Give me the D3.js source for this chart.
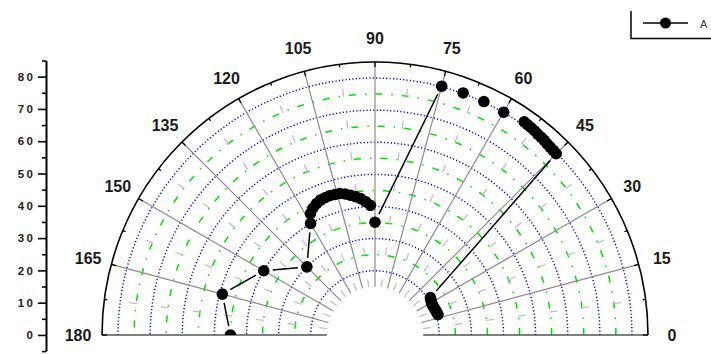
<!DOCTYPE html>
<html>
<head>
<meta charset="utf-8">
<script src="https://cdn.jsdelivr.net/npm/d3@7"></script>
<style>
  body { margin:0; background:#fff; }
  svg { display:block; }
  text { font-family: "Liberation Sans", Arial, sans-serif; }
</style>
</head>
<body>
<div id="chart"></div>
<script>
// datos (angulo en grados, radio)
var thetaDeg = [180, 165, 150, 135, 120, 118, 116, 114, 112, 110, 108, 106, 104, 102, 100, 98, 96, 94, 92, 90,
                75, 70, 65, 60, 55, 54, 53, 52, 51, 50, 49, 48, 47, 46, 45,
                34, 32, 30, 28, 26, 24, 22, 20, 18];
var radius   = [45, 49.2, 40, 30, 40.1, 42.8, 44, 44.8, 45.3, 45.5, 45.6, 45.5, 45.4, 44.9, 44.2, 43.5, 42.7, 41.6, 40.4, 35.1,
                80.2, 80.2, 80.2, 80.1, 81, 80.9, 80.8, 80.7, 80.5, 80.4, 80.3, 80.1, 80, 79.9, 79.8,
                20.8, 20.5, 20.3, 20.2, 20.2, 20.3, 20.4, 20.5, 20.6];
var angleTicks = [0, 15, 30, 45, 60, 75, 90, 105, 120, 135, 150, 165, 180];
var majorRings = [20, 30, 40, 50, 60, 70, 80];
var minorRings = [25, 35, 45, 55, 65, 75];
var yTicks = [0, 10, 20, 30, 40, 50, 60, 70, 80];
var seriesName = 'A';

var W = 711, H = 354;
var cx = 375, cy = 335;
var rInner = 15, rOuter = 85;

var svg = d3.select('#chart').append('svg').attr('width', W).attr('height', H);

var rScale = d3.scaleLinear().domain([0, 85]).range([0, 273]);
var yScale = d3.scaleLinear().domain([-5, 85]).range([351.1, 60.5]);

function px(a, r) { return cx + rScale(r) * Math.cos(a * Math.PI / 180); }
function py(a, r) { return cy - rScale(r) * Math.sin(a * Math.PI / 180); }

function halfRing(r) {
    var p = d3.path();
    p.arc(cx, cy, rScale(r), 0, -Math.PI, true);
    return p.toString();
}

var grid = svg.append('g');

// anillos menores (verde) y mayores (azul)
grid.selectAll('path.minor').data(minorRings).enter().append('path')
    .attr('d', halfRing).attr('fill', 'none')
    .attr('stroke', '#00e000').attr('stroke-width', 1.5)
    .attr('stroke-dasharray', '7,9,1.5,9');
grid.selectAll('path.major').data(majorRings).enter().append('path')
    .attr('d', halfRing).attr('fill', 'none')
    .attr('stroke', '#0000ff').attr('stroke-width', 1.5)
    .attr('stroke-dasharray', '1.2,2.2');

// lineas radiales menores (gris discontinuo)
var minorAngles = d3.range(7.5, 180, 15);
grid.selectAll('line.minorA').data(minorAngles).enter().append('line')
    .attr('x1', a => px(a, rInner)).attr('y1', a => py(a, rInner))
    .attr('x2', a => px(a, rOuter)).attr('y2', a => py(a, rOuter))
    .attr('stroke', '#c0c0c0').attr('stroke-width', 1.3)
    .attr('stroke-dasharray', '8,24');

// lineas radiales mayores
grid.selectAll('line.majorA').data(angleTicks).enter().append('line')
    .attr('x1', a => px(a, rInner)).attr('y1', a => py(a, rInner))
    .attr('x2', a => px(a, rOuter)).attr('y2', a => py(a, rOuter))
    .attr('stroke', a => (a === 0 || a === 180) ? '#555' : '#8a8a8a')
    .attr('stroke-width', a => (a === 0 || a === 180) ? 1.6 : 1.2);

// arco exterior con ticks
grid.append('path').attr('d', halfRing(rOuter)).attr('fill', 'none')
    .attr('stroke', '#000').attr('stroke-width', 1.6);
var arcTicks = d3.range(0, 180.1, 7.5);
grid.selectAll('line.otick').data(arcTicks).enter().append('line')
    .attr('x1', a => px(a, rOuter)).attr('y1', a => py(a, rOuter))
    .attr('x2', a => cx + (rScale(rOuter) - (a % 15 === 0 ? 5 : 3)) * Math.cos(a * Math.PI / 180))
    .attr('y2', a => cy - (rScale(rOuter) - (a % 15 === 0 ? 5 : 3)) * Math.sin(a * Math.PI / 180))
    .attr('stroke', '#000').attr('stroke-width', 1.3);

// etiquetas de angulo
svg.append('g').selectAll('text').data(angleTicks).enter().append('text')
    .attr('x', a => cx + 297 * Math.cos(a * Math.PI / 180))
    .attr('y', a => cy - 297 * Math.sin(a * Math.PI / 180))
    .attr('text-anchor', 'middle').attr('dy', '0.36em')
    .attr('font-size', '16px').attr('font-weight', 'bold').attr('fill', '#1a1a1a')
    .text(a => a);

// eje izquierdo
var axisG = svg.append('g').attr('transform', 'translate(46,0)');
axisG.call(d3.axisLeft(yScale).tickValues(yTicks).tickSize(8).tickPadding(2.5).tickSizeOuter(0));
axisG.append('g').call(d3.axisLeft(yScale).tickValues(d3.range(-5, 86, 10)).tickSize(4).tickFormat('').tickSizeOuter(0))
    .select('.domain').remove();
axisG.selectAll('.domain').attr('stroke', '#000').attr('stroke-width', 2);
axisG.selectAll('.tick line').attr('stroke', '#000').attr('stroke-width', 1.6);
axisG.selectAll('.tick text').attr('font-size', '11.5px').attr('font-weight', 'bold')
    .attr('fill', '#222').attr('letter-spacing', '2.5px')
    .attr('font-family', '"Liberation Sans", Arial, sans-serif');

// serie de datos
var pts = thetaDeg.map(function(a, i) { return { a: a, r: radius[i], x: px(a, radius[i]), y: py(a, radius[i]) }; });

svg.append('clipPath').attr('id', 'half').append('rect')
    .attr('x', 0).attr('y', 0).attr('width', W).attr('height', cy);

var plot = svg.append('g').attr('clip-path', 'url(#half)');
var gap = 9;
var segs = [];
for (var i = 0; i < pts.length - 1; i++) {
    var p0 = pts[i], p1 = pts[i + 1];
    var dx = p1.x - p0.x, dy = p1.y - p0.y, len = Math.sqrt(dx * dx + dy * dy);
    if (len < 30) continue;
    segs.push({ x1: p0.x + dx / len * gap, y1: p0.y + dy / len * gap,
                x2: p1.x - dx / len * gap, y2: p1.y - dy / len * gap });
}
plot.selectAll('line.seg').data(segs).enter().append('line')
    .attr('x1', d => d.x1).attr('y1', d => d.y1).attr('x2', d => d.x2).attr('y2', d => d.y2)
    .attr('stroke', '#000').attr('stroke-width', 1.5);
plot.selectAll('circle').data(pts).enter().append('circle')
    .attr('cx', d => d.x).attr('cy', d => d.y).attr('r', 5.8).attr('fill', '#000');

// leyenda
var leg = svg.append('g');
leg.append('path').attr('d', 'M631,11V38.5H711').attr('fill', 'none')
    .attr('stroke', '#000').attr('stroke-width', 1.5);
leg.append('line').attr('x1', 643).attr('x2', 688).attr('y1', 23).attr('y2', 23)
    .attr('stroke', '#000').attr('stroke-width', 1.5);
leg.append('circle').attr('cx', 665.5).attr('cy', 23).attr('r', 5.5).attr('fill', '#000');
leg.append('text').attr('x', 700).attr('y', 28).attr('font-size', '11px').attr('fill', '#333').text(seriesName);
</script>
</body>
</html>
